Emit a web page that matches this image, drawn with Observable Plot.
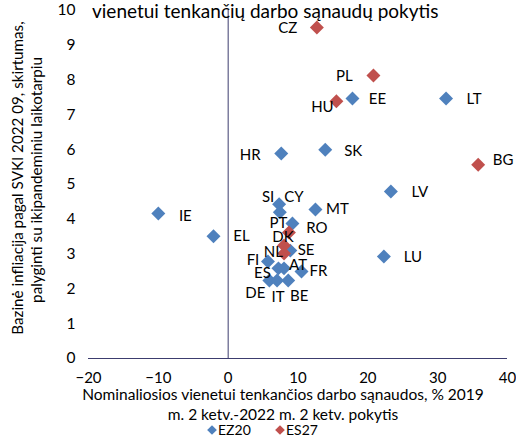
<!DOCTYPE html>
<html><head><meta charset="utf-8">
<script src="https://cdn.jsdelivr.net/npm/d3@7"></script>
<script src="https://cdn.jsdelivr.net/npm/@observablehq/plot@0.6"></script>
<style>body{margin:0;background:#fff;} #chart svg{display:block}</style>
</head><body><div id="chart"></div>
<script>
// ---- data ----
const countries = ["IE","EL","HR","SK","EE","LT","LV","LU","SI","CY","MT","PT","NL","FI","ES","AT","FR","DE","IT","BE",
                   "CZ","PL","HU","BG","RO","DK","SE"];
const costChange = [-10.0,-2.1,7.6,13.9,17.8,31.2,23.3,22.3,7.3,7.4,12.5,9.2,8.9,5.7,7.2,8.0,10.5,5.9,7.0,8.6,
                    12.7,20.8,15.5,35.8,8.7,8.0,8.0];
const coreInflation = [4.17,3.51,5.89,6.0,7.47,7.47,4.8,2.93,4.43,4.2,4.28,3.88,3.1,2.79,2.59,2.59,2.5,2.24,2.24,2.24,
                       9.51,8.13,7.39,5.57,3.62,3.25,3.02];
const groups = ["EZ20","EZ20","EZ20","EZ20","EZ20","EZ20","EZ20","EZ20","EZ20","EZ20","EZ20","EZ20","EZ20","EZ20","EZ20","EZ20","EZ20","EZ20","EZ20","EZ20",
                "ES27","ES27","ES27","ES27","ES27","ES27","ES27"];
const seriesNames = ["EZ20","ES27"];
const xTicks = [-20,-10,0,10,20,30,40];
const yTicks = [0,1,2,3,4,5,6,7,8,9,10];
const titleText = "vienetui tenkančių darbo sąnaudų pokytis";
const xTitle = ["Nominaliosios vienetui tenkančios darbo sąnaudos, % 2019", "m. 2 ketv.-2022 m. 2 ketv. pokytis"];
const yTitle = ["Bazinė infliacija pagal SVKI 2022 09, skirtumas,", "palyginti su ikipandeminiu laikotarpiu"];

// ---- styling / label placement (px offsets) ----
const colors = {EZ20: "#4F81BD", ES27: "#C0504D"};
const labelOffset = {
  IE:[27,3], EL:[28,0], HR:[-31,2], SK:[28,1], EE:[25,1], LT:[28,1], LV:[29,1], LU:[29,1],
  SI:[-11,-7], CY:[14,-15], MT:[22,0], PT:[-14,0], NL:[-17,2], FI:[-15,-1], ES:[-16,5],
  AT:[14,-3], FR:[17,0], DE:[-14,13], IT:[1,17], BE:[11,16],
  CZ:[-29,1], PL:[-29,1], HU:[-14,6], BG:[25,-4], RO:[28,-4], DK:[-1,-8], SE:[22,-3]
};
const FONT = "Lato, 'Open Sans', sans-serif";

const rows = countries.map((c, i) => ({country: c, x: costChange[i], y: coreInflation[i], group: groups[i]}));
const axisColor = "#3c3c6e";

const W = 516, H = 437;
const marks = [
  Plot.ruleY([0], {x1: xTicks[0], x2: xTicks[xTicks.length - 1], stroke: axisColor, strokeWidth: 1}),
  Plot.ruleX([0], {y1: yTicks[0], y2: yTicks[yTicks.length - 1], stroke: axisColor, strokeWidth: 1}),
  Plot.axisX({ticks: xTicks, tickSize: 0, tickPadding: 14, label: null, fontSize: 15, fill: "#000"}),
  Plot.axisY({ticks: yTicks, tickSize: 0, tickPadding: 13, label: null, fontSize: 15.5, fill: "#000"}),
];
for (const s of seriesNames) {
  marks.push(Plot.dot(rows.filter(d => d.group === s), {x: "x", y: "y", symbol: "diamond2", r: 6.3, fill: colors[s], stroke: "none"}));
}
for (const d of rows) {
  const [dx, dy] = labelOffset[d.country];
  marks.push(Plot.text([d], {x: "x", y: "y", text: "country", dx, dy, fontSize: 15, fill: "#000", textAnchor: "middle"}));
}

const chart = Plot.plot({
  width: W, height: H,
  marginLeft: 88, marginRight: 9, marginTop: 10, marginBottom: 79,
  style: {fontFamily: FONT, background: "#fff", overflow: "visible"},
  x: {domain: [xTicks[0], xTicks[xTicks.length - 1]]},
  y: {domain: [yTicks[0], yTicks[yTicks.length - 1]]},
  marks
});
document.getElementById("chart").append(chart);

// titles, added as real text
const svg = d3.select(chart);
const g = svg.append("g").attr("font-family", FONT).attr("fill", "#000").attr("text-anchor", "start");
g.append("text").attr("x", 92).attr("y", 18).attr("text-anchor", "start").attr("font-size", 19).text(titleText);
g.append("text").attr("x", 283).attr("y", 400).attr("text-anchor", "middle").attr("font-size", 15.5).text(xTitle[0]);
g.append("text").attr("x", 283).attr("y", 420).attr("text-anchor", "middle").attr("font-size", 15.5).text(xTitle[1]);
g.append("text").attr("transform", "translate(23,178) rotate(-90)").attr("text-anchor", "middle").attr("font-size", 15.2).text(yTitle[0]);
g.append("text").attr("transform", "translate(42,180) rotate(-90)").attr("text-anchor", "middle").attr("font-size", 15.2).text(yTitle[1]);

// legend
const legendPos = [{cx: 212, tx: 218}, {cx: 280, tx: 286}];
seriesNames.forEach((s, i) => {
  const p = legendPos[i];
  g.append("path").attr("d", d3.symbol(d3.symbolDiamond2, 60)()).attr("transform", `translate(${p.cx},430)`).attr("fill", colors[s]);
  g.append("text").attr("x", p.tx).attr("y", 434.5).attr("text-anchor", "start").attr("font-size", 14).text(s);
});
</script>
</body></html>
